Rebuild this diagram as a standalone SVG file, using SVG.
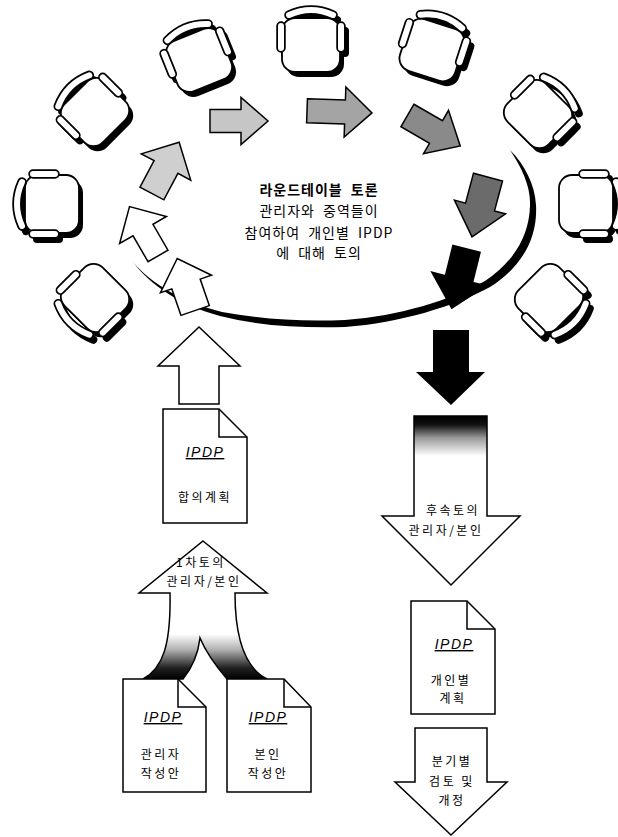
<svg xmlns="http://www.w3.org/2000/svg" width="618" height="837" viewBox="0 0 618 837">
<style>
  .kr{font-family:"Noto Sans CJK KR","Noto Sans",sans-serif;font-size:12px;letter-spacing:2.5px;text-anchor:middle;fill:#000}
  .rt{font-family:"Noto Sans CJK KR","Noto Sans",sans-serif;font-size:14px;letter-spacing:1px;word-spacing:4px;text-anchor:middle;fill:#000}
  .ip{font-family:"Liberation Sans",Arial,sans-serif;font-style:italic;font-size:14px;letter-spacing:1.5px;text-decoration:underline;text-anchor:middle;fill:#000}
  .doc{fill:#fff;stroke:#000;stroke-width:1.5;stroke-linejoin:miter}
  .fold{fill:none;stroke:#000;stroke-width:1.5}
  .arr{stroke:#000;stroke-width:1.5;stroke-linejoin:miter}
</style>
<defs>
  <!-- chair seen from above, facing +y, seat centred on the origin -->
  <g id="chairShadow">
    <rect x="-29" y="-27" width="58" height="54" rx="13" fill="#000"/>
    <path d="M-30,-19V3M30,-19V3M-22,-30Q0,-40 22,-30" stroke="#000" stroke-width="8" stroke-linecap="round" fill="none"/>
  </g>
  <g id="chair">
    <rect x="-29" y="-27" width="58" height="54" rx="13" fill="#fff" stroke="#000" stroke-width="1.8"/>
    <path d="M-30,-19V3M30,-19V3M-22,-30Q0,-40 22,-30" stroke="#000" stroke-width="9.5" stroke-linecap="round" fill="none"/>
    <path d="M-30,-19V3M30,-19V3M-22,-30Q0,-40 22,-30" stroke="#fff" stroke-width="6" stroke-linecap="round" fill="none"/>
  </g>
  <linearGradient id="fadeDown" gradientUnits="userSpaceOnUse" x1="0" y1="416" x2="0" y2="456">
    <stop offset="0" stop-color="#000"/>
    <stop offset="0.22" stop-color="#111"/>
    <stop offset="0.55" stop-color="#9a9a9a"/>
    <stop offset="1" stop-color="#fff"/>
  </linearGradient>
  <linearGradient id="fadeUp" gradientUnits="userSpaceOnUse" x1="0" y1="679" x2="0" y2="634">
    <stop offset="0" stop-color="#000"/>
    <stop offset="0.25" stop-color="#222"/>
    <stop offset="0.65" stop-color="#b0b0b0"/>
    <stop offset="1" stop-color="#fff"/>
  </linearGradient>
</defs>

<rect width="618" height="837" fill="#fff"/>

<!-- chairs around the table: shadows first, then the chairs -->
<g id="chairs">
  <use href="#chairShadow" transform="translate(99,117) rotate(-45)"/>
  <use href="#chairShadow" transform="translate(203,65) rotate(-22)"/>
  <use href="#chairShadow" transform="translate(315,50) rotate(0)"/>
  <use href="#chairShadow" transform="translate(436,55) rotate(18)"/>
  <use href="#chairShadow" transform="translate(542,119) rotate(45)"/>
  <use href="#chairShadow" transform="translate(590,209) rotate(90)"/>
  <use href="#chairShadow" transform="translate(553,303) rotate(135)"/>
  <use href="#chairShadow" transform="translate(56,209) rotate(-90)"/>
  <use href="#chairShadow" transform="translate(99,303) rotate(-135)"/>
  <use href="#chair" transform="translate(95,112) rotate(-45)"/>
  <use href="#chair" transform="translate(199,60) rotate(-22)"/>
  <use href="#chair" transform="translate(311,45) rotate(0)"/>
  <use href="#chair" transform="translate(432,50) rotate(18)"/>
  <use href="#chair" transform="translate(538,114) rotate(45)"/>
  <use href="#chair" transform="translate(586,204) rotate(90)"/>
  <use href="#chair" transform="translate(549,298) rotate(135)"/>
  <use href="#chair" transform="translate(52,204) rotate(-90)"/>
  <use href="#chair" transform="translate(95,298) rotate(-135)"/>
</g>

<!-- sweeping arc under the table -->
<path id="arc" d="M133,262 C150,285 180,305 220,316 C260,326 300,328 345,327 C400,323 455,306 490,287 C520,268 538,240 536,205 C535,185 525,165 510,150 C522,168 531,187 530,206 C529,238 512,263 485,281 C450,300 400,316 345,320 C300,322 262,319 222,312 C184,302 152,285 133,262 Z" fill="#000"/>

<!-- discussion round: arrows going clockwise -->
<g id="round-arrows" class="arr">
  <polygon transform="translate(186,284) rotate(-109)" points="-28,-15 0,-15 0,-27 27,0 0,27 0,15 -28,15" fill="#fff"/>
  <polygon transform="translate(143,230) rotate(-120)" points="-30,-11.5 0,-11.5 0,-27 27,0 0,27 0,11.5 -30,11.5" fill="#fff"/>
  <polygon transform="translate(166,167) rotate(-62)" points="-30,-13.5 0,-13.5 0,-28 28,0 0,28 0,13.5 -30,13.5" fill="#cfcfcf"/>
  <polygon transform="translate(241,121) rotate(0)" points="-31,-11.5 0,-11.5 0,-23.5 27,0 0,23.5 0,11.5 -31,11.5" fill="#c6c6c6"/>
  <polygon transform="translate(345,112) rotate(2)" points="-38,-12 0,-12 0,-25 27,0 0,25 0,12 -38,12" fill="#a4a4a4"/>
  <polygon transform="translate(436,132) rotate(30)" points="-33,-13 0,-13 0,-25 28,0 0,25 0,13 -33,13" fill="#8a8a8a"/>
  <polygon transform="translate(480,207) rotate(105)" points="-31,-15 0,-15 0,-26.5 31,0 0,26.5 0,15 -31,15" fill="#6b6b6b"/>
  <polygon transform="translate(459,279) rotate(104)" points="-31,-14 0,-14 0,-28 30,0 0,28 0,14 -31,14" fill="#000"/>
</g>

<!-- table caption -->
<g id="roundtable-label">
  <text class="rt" x="319" y="195" font-weight="bold">라운드테이블 토론</text>
  <text class="rt" x="319" y="216">관리자와 중역들이</text>
  <text class="rt" x="319" y="238">참여하여 개인별 IPDP</text>
  <text class="rt" x="319" y="258">에 대해 토의</text>
</g>

<!-- flow connectors -->
<g id="connectors">
  <polygon id="up-to-table" class="arr" fill="#fff" points="199,327 240,366 219,366 219,404 179,404 179,366 158,366"/>
  <polygon id="table-down" fill="#000" points="433,330 469,330 469,372 485,372 451,405 416,372 433,372"/>
  <path id="first-review" class="arr" fill="url(#fadeUp)" d="M203,541 L267,593 L235,593 C235,640 245,668 267,679 L227,679 C215,665 205,650 200,638 C198,655 192,668 183,679 L143,679 C163,668 171,645 170,593 L139,593 Z"/>
  <polygon id="follow-up" class="arr" fill="url(#fadeDown)" points="414,416 487,416 487,516 520,516 451,585 382,516 414,516"/>
  <polygon id="quarterly" class="arr" fill="#fff" points="415,728 487,728 487,782 507,782 451,835 395,782 415,782"/>
</g>

<g id="first-review-label">
  <text class="kr" x="201" y="567">1차토의</text>
  <text class="kr" x="204" y="586">관리자/본인</text>
</g>
<g id="follow-up-label">
  <text class="kr" x="453" y="515">후속토의</text>
  <text class="kr" x="446" y="535">관리자/본인</text>
</g>
<g id="quarterly-label">
  <text class="kr" x="452" y="766">분기별</text>
  <text class="kr" x="452" y="786">검토 및</text>
  <text class="kr" x="452" y="805">개정</text>
</g>

<!-- documents -->
<g id="doc-agreed">
  <path class="doc" d="M163,409 H219 L247,437 V523 H163 Z"/>
  <path class="fold" d="M219,409 V437 H247"/>
  <text class="ip" x="205" y="457">IPDP</text>
  <text class="kr" x="205" y="502">합의계획</text>
</g>
<g id="doc-manager">
  <path class="doc" d="M123,679 H178 L206,707 V792 H123 Z"/>
  <path class="fold" d="M178,679 V707 H206"/>
  <text class="ip" x="163" y="722">IPDP</text>
  <text class="kr" x="161" y="759">관리자</text>
  <text class="kr" x="161" y="778">작성안</text>
</g>
<g id="doc-self">
  <path class="doc" d="M227,679 H284 L311,707 V792 H227 Z"/>
  <path class="fold" d="M284,679 V707 H311"/>
  <text class="ip" x="268" y="722">IPDP</text>
  <text class="kr" x="268" y="759">본인</text>
  <text class="kr" x="268" y="778">작성안</text>
</g>
<g id="doc-individual">
  <path class="doc" d="M411,601 H467 L495,629 V714 H411 Z"/>
  <path class="fold" d="M467,601 V629 H495"/>
  <text class="ip" x="454" y="649">IPDP</text>
  <text class="kr" x="451" y="685">개인별</text>
  <text class="kr" x="453" y="703">계획</text>
</g>
</svg>
